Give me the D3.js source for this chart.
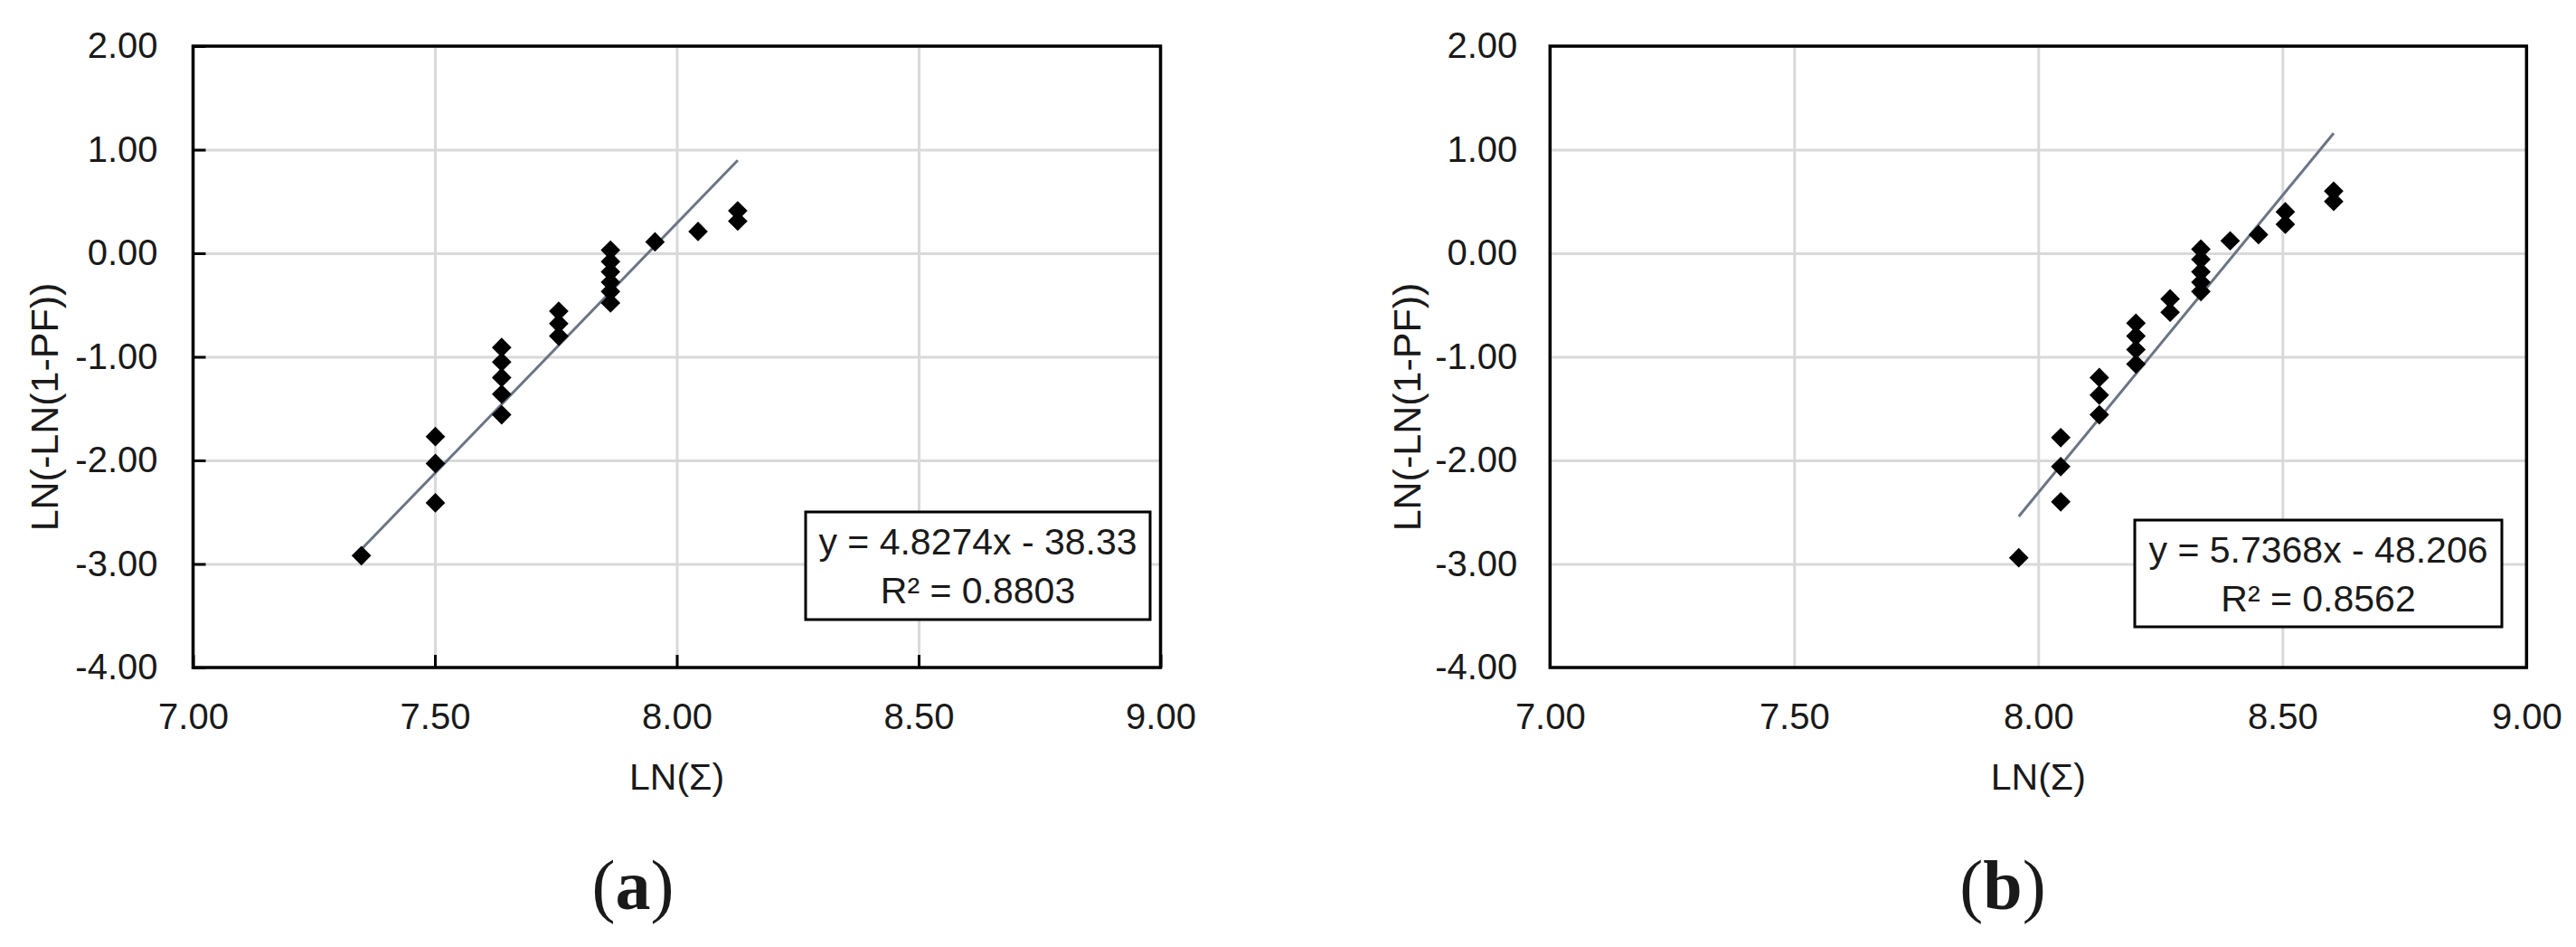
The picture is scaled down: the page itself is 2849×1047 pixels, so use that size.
<!DOCTYPE html>
<html>
<head>
<meta charset="utf-8">
<script src="https://cdn.jsdelivr.net/npm/d3@7"></script>
<style>
  body { margin: 0; background: #fff; }
  text { font-family: "Liberation Sans", Arial, sans-serif; fill: #1a1a1a; }
</style>
</head>
<body>
<svg id="fig" width="2849" height="1047"></svg>
<script>
// tick values shared by both panels
const xTicks = [7.00, 7.50, 8.00, 8.50, 9.00];
const yTicks = [2.00, 1.00, 0.00, -1.00, -2.00, -3.00, -4.00];

// panel (a)
const lnSigmaA = [7.348, 7.501, 7.501, 7.501, 7.638, 7.638, 7.638, 7.638, 7.638,
                  7.756, 7.756, 7.756, 7.863, 7.863, 7.863, 7.863, 7.863, 7.863,
                  7.955, 8.044, 8.126, 8.126];
const lnlnA    = [-2.92, -2.41, -2.03, -1.77, -1.56, -1.36, -1.20, -1.05, -0.91,
                  -0.80, -0.68, -0.56, -0.48, -0.37, -0.28, -0.18, -0.08, 0.03,
                  0.11, 0.21, 0.31, 0.41];
const fitA = [4.8274, -38.33];
const r2A = 0.8803;

// panel (b)
const lnSigmaB = [7.960, 8.046, 8.046, 8.046, 8.125, 8.125, 8.125, 8.200, 8.200,
                  8.200, 8.200, 8.270, 8.270, 8.333, 8.333, 8.333, 8.333, 8.333,
                  8.393, 8.451, 8.506, 8.506, 8.605, 8.605];
const lnlnB    = [-2.94, -2.40, -2.06, -1.78, -1.56, -1.37, -1.20, -1.07, -0.93,
                  -0.80, -0.675, -0.57, -0.44, -0.37, -0.28, -0.18, -0.06, 0.04,
                  0.12, 0.18, 0.28, 0.40, 0.50, 0.60];
const fitB = [5.7368, -48.206];
const r2B = 0.8562;

const svg = d3.select('#fig');
const fmt = d => d.toFixed(2);

function drawPanel(p) {
    const x = d3.scaleLinear().domain([7, 9]).range([p.left, p.right]);
    const y = d3.scaleLinear().domain([-4, 2]).range([738, 51]);
    const g = svg.append('g');

    // gridlines
    g.append('g')
        .attr('transform', `translate(0,${y(-4)})`)
        .call(d3.axisBottom(x).tickValues(xTicks).tickSize(-(y(-4) - y(2))).tickFormat(''))
        .call(a => a.select('.domain').remove())
        .call(a => a.selectAll('line').attr('stroke', '#d9d9d9').attr('stroke-width', 3));
    g.append('g')
        .attr('transform', `translate(${x(7)},0)`)
        .call(d3.axisLeft(y).tickValues(yTicks).tickSize(-(x(9) - x(7))).tickFormat(''))
        .call(a => a.select('.domain').remove())
        .call(a => a.selectAll('line').attr('stroke', '#d9d9d9').attr('stroke-width', 3));

    // plot border
    g.append('rect')
        .attr('x', x(7)).attr('y', y(2))
        .attr('width', x(9) - x(7)).attr('height', y(-4) - y(2))
        .attr('fill', 'none').attr('stroke', '#000').attr('stroke-width', 3.5);

    // axes (ticks point inward on panel a only)
    g.append('g')
        .attr('transform', `translate(0,${y(-4)})`)
        .call(d3.axisBottom(x).tickValues(xTicks).tickFormat(fmt)
            .tickSizeInner(-p.tick).tickSizeOuter(0).tickPadding(40))
        .call(a => a.select('.domain').remove())
        .call(a => a.selectAll('line').attr('stroke', '#000').attr('stroke-width', 3))
        .call(a => a.selectAll('text').attr('font-size', 40).attr('font-family', null).attr('fill', null));
    g.append('g')
        .attr('transform', `translate(${x(7)},0)`)
        .call(d3.axisLeft(y).tickValues(yTicks).tickFormat(fmt)
            .tickSizeInner(-p.tick).tickSizeOuter(0).tickPadding(p.ypad))
        .call(a => a.select('.domain').remove())
        .call(a => a.selectAll('line').attr('stroke', '#000').attr('stroke-width', 3))
        .call(a => a.selectAll('text').attr('font-size', 40).attr('font-family', null).attr('fill', null));

    // axis titles
    g.append('text')
        .attr('x', (x(7) + x(9)) / 2).attr('y', 873)
        .attr('text-anchor', 'middle').attr('font-size', 41)
        .text('LN(Σ)');
    g.append('text')
        .attr('transform', `translate(${p.ytitleX},450) rotate(-90)`)
        .attr('text-anchor', 'middle').attr('dy', '0.35em').attr('font-size', 43)
        .text('LN(-LN(1-PF))');

    // trendline over the data range
    const ext = d3.extent(p.xs);
    g.append('path')
        .datum(ext)
        .attr('d', d3.line().x(d => x(d)).y(d => y(p.fit[0] * d + p.fit[1])))
        .attr('stroke', '#6b7584').attr('stroke-width', 3).attr('fill', 'none');

    // diamonds
    g.append('g')
        .selectAll('path')
        .data(d3.zip(p.xs, p.ys))
        .join('path')
        .attr('d', d3.symbol(d3.symbolSquare, 235))
        .attr('transform', d => `translate(${x(d[0])},${y(d[1])}) rotate(45)`)
        .attr('fill', '#000');

    // equation box
    const b = p.box;
    g.append('rect')
        .attr('x', b[0]).attr('y', b[1]).attr('width', b[2]).attr('height', b[3])
        .attr('fill', '#fff').attr('stroke', '#000').attr('stroke-width', 3);
    const cx = b[0] + b[2] / 2;
    g.append('text')
        .attr('x', cx).attr('y', b[1] + 47)
        .attr('text-anchor', 'middle').attr('font-size', 41)
        .text(`y = ${p.fit[0]}x - ${Math.abs(p.fit[1])}`);
    g.append('text')
        .attr('x', cx).attr('y', b[1] + 101)
        .attr('text-anchor', 'middle').attr('font-size', 41)
        .text(`R² = ${p.r2.toFixed(4)}`);

    // panel letter
    const lab = g.append('text')
        .attr('x', p.labelX).attr('y', 1005)
        .attr('text-anchor', 'middle').attr('font-size', 78)
        .style('font-family', '"Liberation Serif", "Times New Roman", serif');
    lab.append('tspan').text('(');
    lab.append('tspan').attr('font-weight', 'bold').text(p.letter);
    lab.append('tspan').text(')');
}

drawPanel({left: 213.5, right: 1283.5, tick: 14, ypad: 39, ytitleX: 49,
           xs: lnSigmaA, ys: lnlnA, fit: fitA, r2: r2A,
           box: [891, 566, 381, 119], labelX: 700, letter: 'a'});
drawPanel({left: 1714.3, right: 2794.3, tick: 0, ypad: 36, ytitleX: 1556,
           xs: lnSigmaB, ys: lnlnB, fit: fitB, r2: r2B,
           box: [2361, 575, 406, 118], labelX: 2215, letter: 'b'});
</script>
</body>
</html>
